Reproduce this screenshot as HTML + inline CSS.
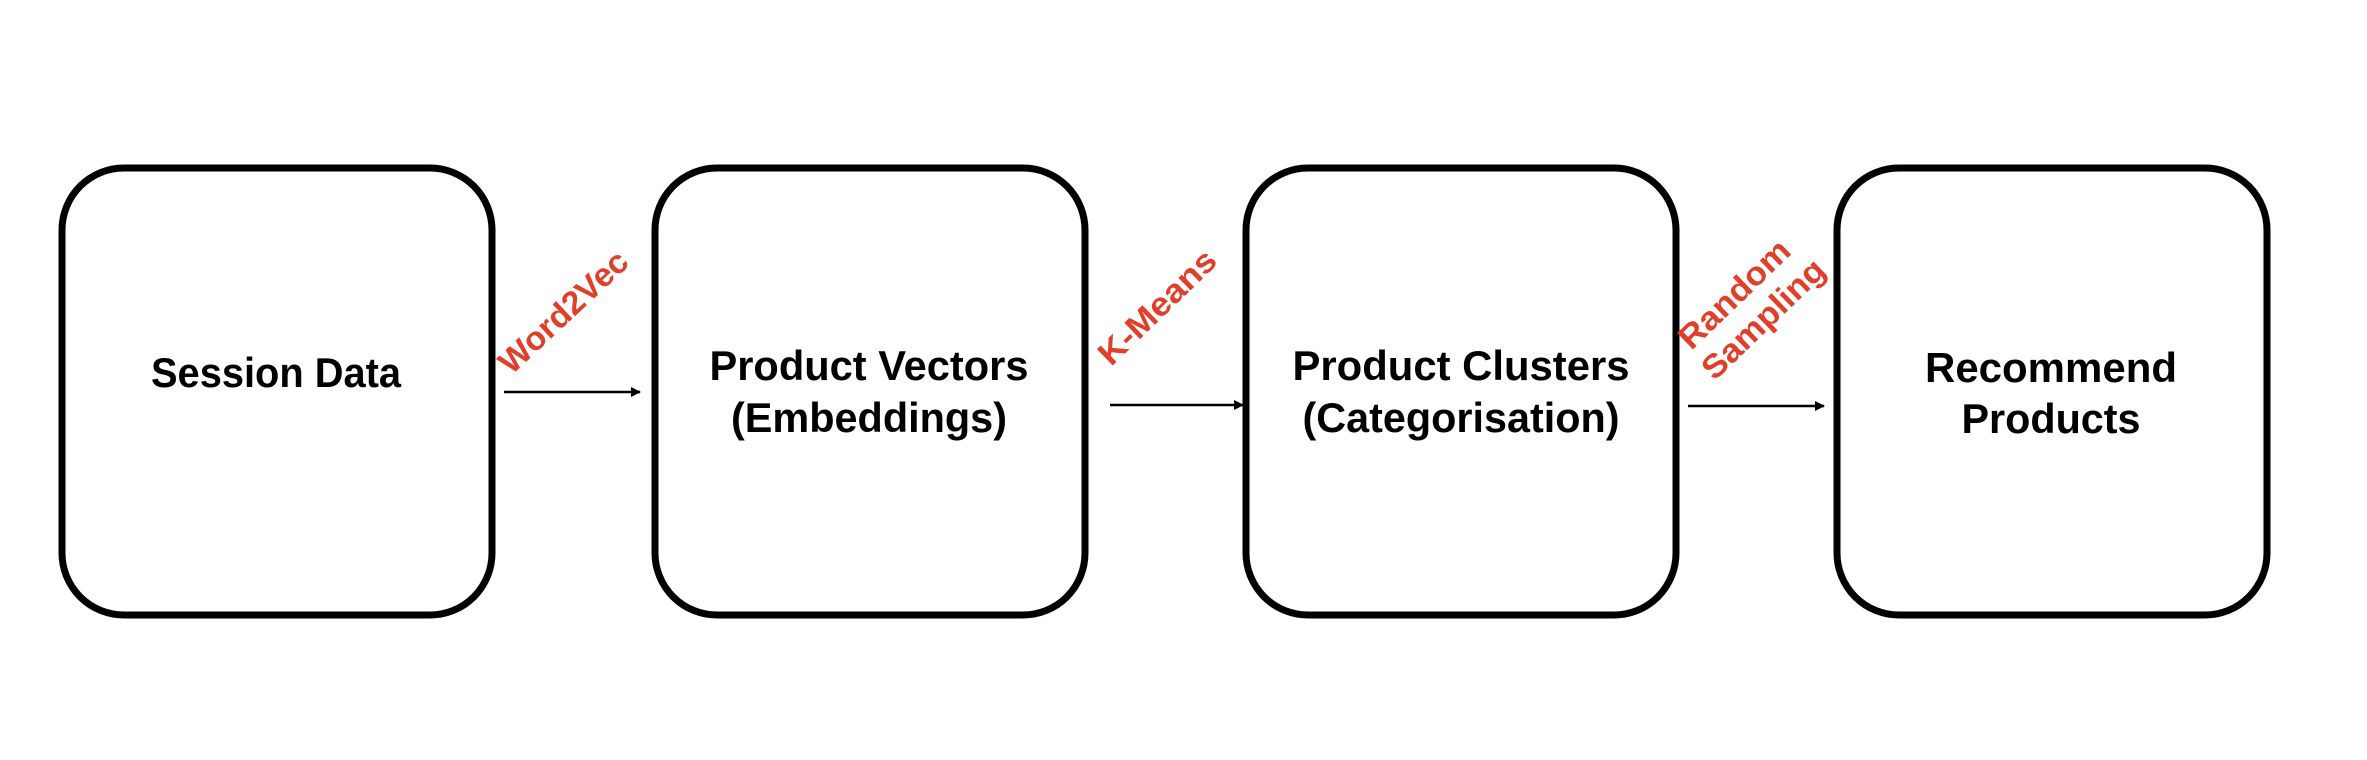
<!DOCTYPE html>
<html><head><meta charset="utf-8"><style>html,body{margin:0;padding:0;background:#fff}svg{display:block}</style></head>
<body>
<svg width="2367" height="760" viewBox="0 0 2367 760" xmlns="http://www.w3.org/2000/svg">
<defs><marker id="a" markerWidth="10" markerHeight="10" refX="9" refY="5" orient="auto" markerUnits="userSpaceOnUse"><path d="M0,0 L10,5 L0,10 Z" fill="#000"/></marker>
<style>.b{fill:#fff;stroke:#000;stroke-width:7}.t{font-family:"Liberation Sans",sans-serif;font-weight:bold;font-size:42px;fill:#000;text-anchor:middle}.r{font-family:"Liberation Sans",sans-serif;font-weight:bold;font-size:33px;fill:#e0402a;text-anchor:middle}</style></defs>
<rect class="b" x="62" y="168" width="430" height="447" rx="62"/>
<rect class="b" x="655" y="168" width="430" height="447" rx="62"/>
<rect class="b" x="1246" y="168" width="430" height="447" rx="62"/>
<rect class="b" x="1837" y="168" width="430" height="447" rx="62"/>
<text class="t" x="276" y="387" textLength="250" lengthAdjust="spacingAndGlyphs">Session Data</text>
<text class="t" x="869" y="380" textLength="319" lengthAdjust="spacingAndGlyphs">Product Vectors</text>
<text class="t" x="869" y="432" textLength="276" lengthAdjust="spacingAndGlyphs">(Embeddings)</text>
<text class="t" x="1461" y="380" textLength="337" lengthAdjust="spacingAndGlyphs">Product Clusters</text>
<text class="t" x="1461" y="432" textLength="317" lengthAdjust="spacingAndGlyphs">(Categorisation)</text>
<text class="t" x="2051" y="382" textLength="252" lengthAdjust="spacingAndGlyphs">Recommend</text>
<text class="t" x="2051" y="433" textLength="179" lengthAdjust="spacingAndGlyphs">Products</text>
<g stroke="#000" stroke-width="2.5">
<line x1="504" y1="392" x2="640" y2="392" marker-end="url(#a)"/>
<line x1="1110" y1="405" x2="1243" y2="405" marker-end="url(#a)"/>
<line x1="1688" y1="406" x2="1824" y2="406" marker-end="url(#a)"/>
</g>
<text class="r" transform="translate(571,320) rotate(-43)" textLength="163" lengthAdjust="spacingAndGlyphs">Word2Vec</text>
<text class="r" transform="translate(1165,315) rotate(-44)" textLength="150" lengthAdjust="spacingAndGlyphs">K-Means</text>
<text class="r" transform="translate(1742,302) rotate(-44)" textLength="141" lengthAdjust="spacingAndGlyphs">Random</text>
<text class="r" transform="translate(1771,327) rotate(-44)" textLength="157" lengthAdjust="spacingAndGlyphs">Sampling</text>
</svg>
</body></html>
